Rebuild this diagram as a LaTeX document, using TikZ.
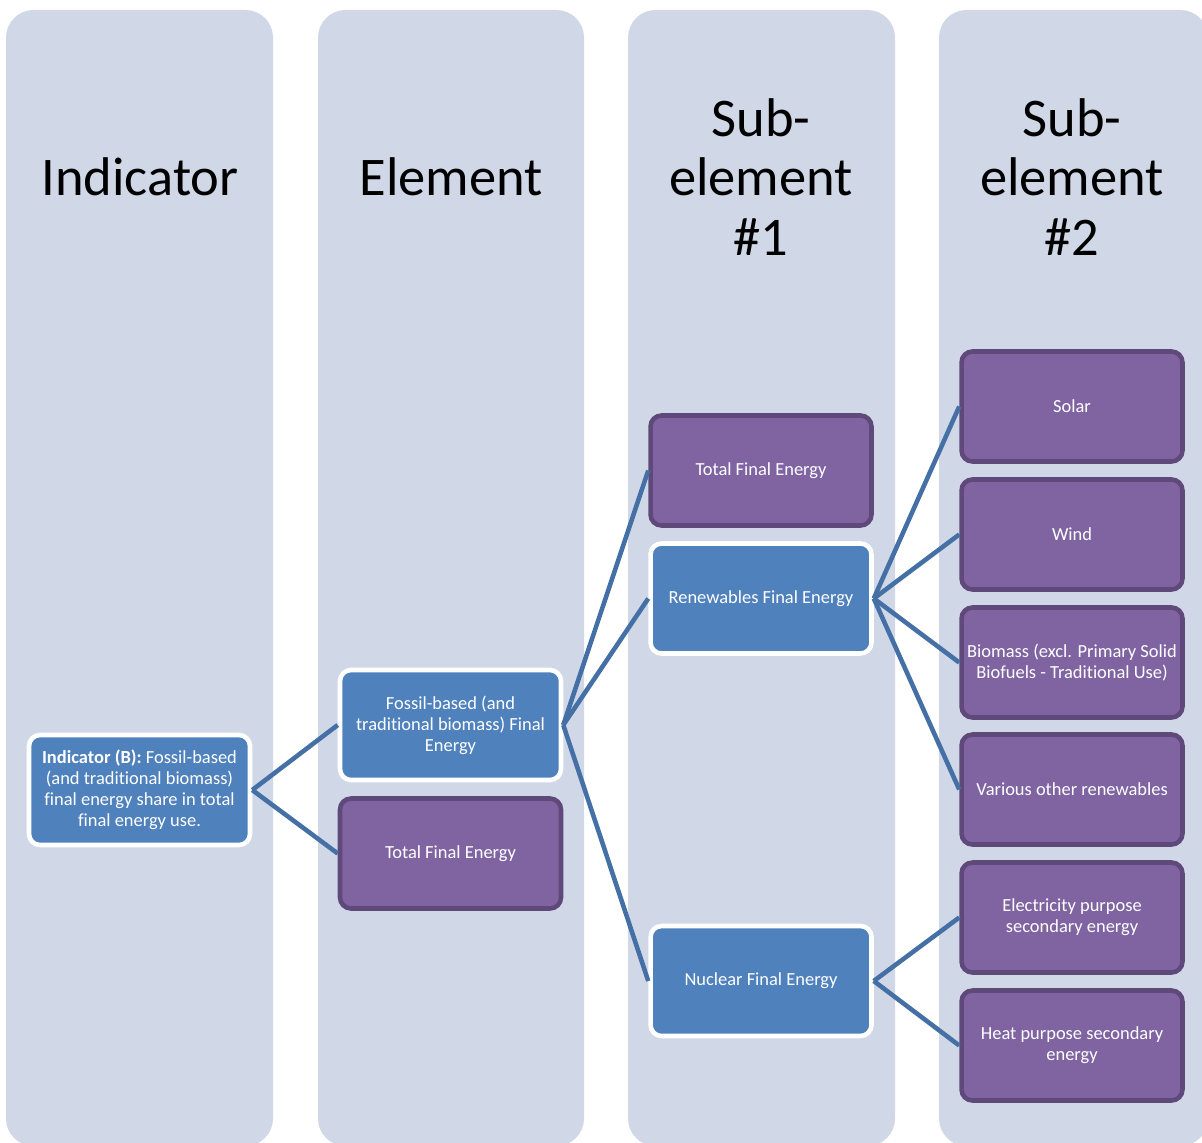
\documentclass[tikz,border=0pt]{standalone}
\usepackage{fontspec}
\setmainfont{Carlito}[RawFeature={-liga;-clig;-calt;-dlig}]
\usepackage{tikz}
\usepackage{xcolor}
\usetikzlibrary{positioning}
\definecolor{colbg}{HTML}{D0D7E6}
\definecolor{boxblue}{HTML}{4F81BD}
\definecolor{boxpurple}{HTML}{8064A2}
\definecolor{edgepurple}{HTML}{5F497A}
\definecolor{linkblue}{HTML}{4570A6}

\begin{document}
\begin{tikzpicture}[x=0.02cm, y=-0.02cm,
    column/.style={fill=colbg, rounded corners=0.55cm},
    header/.style={font=\fontsize{31}{34}\selectfont, align=center, text=black},
    bluebox/.style={fill=boxblue, draw=white, line width=2.6pt, rounded corners=0.22cm,
      minimum width=4.42cm, minimum height=2.2cm, text=white, align=center,
      font=\fontsize{10.5}{12}\selectfont, inner sep=2pt},
    purplebox/.style={bluebox, fill=boxpurple, draw=edgepurple},
    link/.style={draw=linkblue, line width=2.6pt}]
    \useasboundingbox (0, 0) rectangle (1202, 1142);
    \clip (0, 0) rectangle (1202, 1142);
    % columns
    \fill[column] (6, 10)   rectangle (273, 1146);
    \fill[column] (318, 10) rectangle (584, 1146);
    \fill[column] (628, 10) rectangle (895, 1146);
    \fill[column] (939, 10) rectangle (1208, 1146);
    \node[header] (hind) at (140, 177) {Indicator};
    \node[header] (hele) at (451, 177) {Element};
    \node[header] (hsubA) at (761, 177) {Sub-\\element\\\#1};
    \node[header] (hsubB) at (1072, 177) {Sub-\\element\\\#2};
    % level 1 and 2
    \node[bluebox] (ind) at (139.5, 790) {\textbf{Indicator (B):} Fossil-based\\(and traditional biomass)\\final energy share in total\\final energy use.};
    \node[bluebox] (fossil) at (450.5, 725) {Fossil-based (and\\traditional biomass) Final\\Energy};
    \node[purplebox] (totalA) at (450.5, 853.5) {Total Final Energy};
    % sub-element 1
    \node[purplebox] (totalB) at (761, 470.5) {Total Final Energy};
    \node[bluebox] (renew) at (761, 598.5) {Renewables Final Energy};
    \node[bluebox] (nuclear) at (761, 981) {Nuclear Final Energy};
    % sub-element 2
    \node[purplebox] (solar) at (1072, 406.5) {Solar};
    \node[purplebox] (wind) at (1072, 534.5) {Wind};
    \node[purplebox] (biomass) at (1072, 662.5) {Biomass (excl. Primary Solid\\Biofuels - Traditional Use)};
    \node[purplebox] (other) at (1072, 789.5) {Various other renewables};
    \node[purplebox] (elec) at (1072, 917.5) {Electricity purpose\\secondary energy};
    \node[purplebox] (heat) at (1072, 1045.5) {Heat purpose secondary\\energy};
    % connectors
    \draw[link] (ind.east) -- (fossil.west);
    \draw[link] (ind.east) -- (totalA.west);
    \foreach \n in {totalB, renew, nuclear}
      \draw[link] (fossil.east) -- (\n.west);
    \foreach \n in {solar, wind, biomass, other}
      \draw[link] (renew.east) -- (\n.west);
    \foreach \n in {elec, heat}
      \draw[link] (nuclear.east) -- (\n.west);
  \end{tikzpicture}
\end{document}
